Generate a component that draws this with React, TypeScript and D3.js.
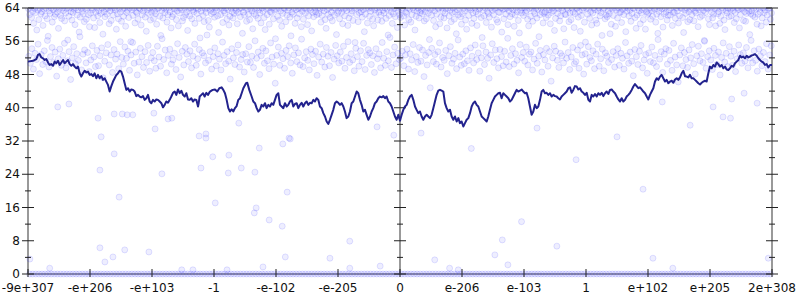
import React from "react";
import * as d3 from "d3";

// x positions are in "tick units": 0..120, one labelled tick every 10
const xTickLabels = ["-9e+307", "-e+206", "-e+103", "-1", "-e-102", "-e-205", "0", "e-206", "e-103", "1", "e+102", "e+205", "2e+308"];
const yMajorTicks = [0, 8, 16, 24, 32, 40, 48, 56, 64];
const yMinorTicks = [4, 12, 20, 28, 36, 44, 52, 60];

// smoothed line: positions and values
const lineX = [
  0, 0.81, 1.34, 1.61, 1.88, 2.15, 2.42, 2.69, 2.96, 3.23, 3.49, 3.76, 4.03, 4.3, 4.57, 4.84, 5.11, 5.38, 5.65, 5.91,
  6.18, 6.45, 6.72, 6.99, 7.26, 7.53, 7.8, 8.06, 8.33, 8.6, 8.87, 9.14, 9.41, 9.68, 9.95, 10.22, 10.48, 10.75, 11.02, 11.29,
  11.56, 11.83, 12.1, 12.37, 12.63, 12.9, 13.17, 13.44, 13.71, 13.98, 14.25, 14.52, 14.78, 15.05, 15.32, 15.59, 15.86, 16.13, 16.4, 16.67,
  16.94, 17.2, 17.47, 17.74, 18.01, 18.28, 18.55, 18.82, 19.09, 19.35, 19.62, 19.89, 20.16, 20.43, 20.7, 20.97, 21.24, 21.51, 21.77, 22.04,
  22.31, 22.58, 22.85, 23.12, 23.39, 23.66, 23.92, 24.19, 24.46, 24.73, 25.0, 25.27, 25.54, 25.81, 26.08, 26.34, 26.61, 26.88, 27.15, 27.42,
  27.53, 27.69, 27.96, 28.23, 28.49, 28.76, 29.03, 29.35, 29.78, 30.16, 30.53, 30.86, 31.23, 31.5, 31.77, 32.04, 32.31, 32.58, 32.84, 33.11,
  33.38, 33.65, 33.92, 34.19, 34.46, 34.73, 35.16, 35.37, 35.69, 36.07, 36.34, 36.61, 36.88, 37.15, 37.41, 37.68, 37.95, 38.22, 38.49, 38.76,
  39.03, 39.3, 39.56, 39.83, 40.1, 40.37, 40.64, 40.91, 41.18, 41.45, 41.72, 41.98, 42.25, 42.52, 42.79, 43.06, 43.33, 43.6, 43.87, 44.13,
  44.4, 44.67, 44.94, 45.21, 45.48, 45.75, 46.02, 46.28, 46.55, 46.82, 47.09, 47.36, 47.63, 47.9, 48.17, 48.44, 48.7, 48.97, 49.24, 49.51,
  49.78, 50.05, 50.32, 50.59, 50.86, 51.12, 51.39, 51.66, 51.93, 52.2, 52.47, 52.74, 53.01, 53.27, 53.54, 53.81, 54.08, 54.35, 54.62, 54.89,
  55.16, 55.43, 55.69, 55.96, 56.23, 56.5, 56.77, 57.04, 57.31, 57.58, 57.84, 58.11, 58.38, 58.65, 58.92, 59.19, 59.46, 59.73, 60.0, 60.27,
  60.53, 60.8, 61.07, 61.34, 61.61, 61.88, 62.15, 62.42, 62.68, 62.95, 63.22, 63.49, 63.76, 64.03, 64.3, 64.57, 64.84, 65.1, 65.37, 65.64,
  65.91, 66.18, 66.45, 66.72, 66.99, 67.25, 67.52, 67.79, 68.06, 68.33, 68.6, 68.87, 69.14, 69.41, 69.67, 69.94, 70.21, 70.48, 70.75, 71.02,
  71.29, 71.56, 71.82, 72.09, 72.36, 72.63, 72.9, 73.17, 73.44, 73.71, 73.98, 74.24, 74.51, 74.78, 75.05, 75.32, 75.59, 75.86, 76.13, 76.39,
  76.66, 76.93, 77.2, 77.47, 77.74, 78.01, 78.28, 78.54, 78.81, 79.08, 79.35, 79.62, 79.89, 80.16, 80.42, 80.69, 80.96, 81.23, 81.5, 81.77,
  82.04, 82.31, 82.58, 82.85, 83.11, 83.38, 83.65, 83.92, 84.19, 84.46, 84.73, 85.0, 85.27, 85.53, 85.8, 86.07, 86.34, 86.61, 86.88, 87.15,
  87.42, 87.68, 87.95, 88.22, 88.49, 88.76, 89.03, 89.3, 89.57, 89.84, 90.11, 90.38, 90.65, 90.92, 91.18, 91.45, 91.72, 91.99, 92.26, 92.53,
  92.8, 93.07, 93.33, 93.6, 93.87, 94.14, 94.41, 94.68, 94.95, 95.22, 95.49, 95.75, 96.02, 96.29, 96.56, 96.83, 97.1, 97.37, 97.64, 97.9,
  98.17, 98.44, 98.71, 98.98, 99.25, 99.52, 99.79, 100.05, 100.32, 100.59, 100.86, 101.13, 101.4, 101.67, 101.94, 102.2, 102.47, 102.74, 103.01, 103.28,
  103.55, 103.82, 104.09, 104.36, 104.62, 104.89, 105.16, 105.43, 105.7, 105.97, 106.24, 106.51, 106.77, 107.04, 107.31, 107.58, 107.85, 108.12, 108.39, 108.66,
  108.92, 109.19, 109.46, 109.73, 110.0, 110.27, 110.54, 110.81, 111.08, 111.34, 111.61, 111.88, 112.15, 112.42, 112.69, 112.96, 113.23, 113.49, 113.76, 114.03,
  114.3, 114.57, 114.84, 115.11, 115.38, 115.65, 115.91, 116.18, 116.45, 116.72, 116.99, 117.26, 117.53, 117.8, 118.06, 118.33, 118.6, 118.87, 119.14, 119.41,
  119.68, 120,
];
const lineY = [
  51.1, 51.3, 51.7, 52.7, 52.9, 52.1, 51.9, 51.5, 51.7, 50.9, 50.3, 50.5, 50.1, 51.1, 50.7, 51.3, 50.3, 50.9, 51.5, 50.7,
  51.1, 51.5, 50.5, 50.1, 50.5, 49.9, 49.5, 49.9, 48.3, 47.5, 48.3, 48.9, 48.5, 48.7, 47.9, 48.1, 47.6, 48.3, 47.1, 47.9,
  47.1, 47.6, 46.7, 47.1, 46.3, 45.5, 43.9, 45.2, 46.3, 47.1, 47.9, 48.3, 48.9, 48.7, 47.5, 45.9, 44.3, 44.7, 43.9, 44.4,
  44.3, 43.9, 42.8, 43.1, 42.7, 42.5, 42.8, 41.9, 42.3, 43.1, 41.5, 41.1, 41.9, 41.5, 42.0, 41.9, 41.5, 41.1, 40.1, 40.7,
  41.5, 41.2, 41.9, 42.7, 43.6, 43.9, 43.1, 44.4, 43.5, 44.1, 43.1, 42.7, 43.5, 42.0, 41.9, 42.3, 41.5, 42.0, 41.9, 40.3,
  41.1, 42.7, 43.1, 43.5, 42.7, 43.6, 43.1, 43.9, 44.3, 44.4, 43.9, 44.7, 44.9, 44.3, 43.5, 41.9, 39.9, 39.1, 39.6, 39.1,
  39.9, 40.4, 41.9, 42.3, 43.5, 44.7, 45.9, 46.0, 44.3, 42.7, 41.5, 41.1, 39.9, 39.1, 39.5, 40.7, 40.3, 41.1, 39.9, 40.7,
  40.3, 41.1, 40.7, 41.9, 43.1, 43.5, 40.7, 40.3, 39.9, 41.1, 40.3, 40.7, 41.5, 41.9, 40.3, 40.9, 41.1, 39.9, 40.7, 41.2,
  40.3, 41.1, 41.5, 40.7, 41.2, 41.1, 41.9, 41.5, 42.3, 41.9, 40.3, 39.9, 38.7, 37.9, 36.7, 36.1, 37.1, 38.3, 39.5, 41.1,
  41.5, 41.2, 40.7, 41.1, 40.3, 39.1, 37.5, 37.9, 39.1, 41.1, 41.5, 42.7, 43.9, 43.5, 41.9, 40.7, 39.1, 39.5, 38.3, 37.1,
  37.9, 39.1, 39.9, 41.1, 41.5, 42.3, 42.7, 42.5, 42.8, 42.3, 42.7, 41.5, 41.1, 40.3, 39.1, 37.9, 37.1, 38.3, 36.9, 38.3,
  39.5, 40.3, 40.7, 41.9, 42.7, 43.1, 41.9, 40.3, 39.5, 38.7, 39.1, 37.9, 37.1, 37.9, 38.3, 37.9, 37.5, 38.3, 39.9, 41.5,
  43.1, 44.1, 44.3, 44.1, 43.9, 41.1, 39.9, 39.1, 39.5, 37.9, 37.1, 37.9, 36.7, 37.5, 36.3, 36.7, 35.5, 36.3, 37.1, 37.5,
  38.7, 40.3, 41.1, 41.5, 40.7, 40.3, 39.1, 37.9, 37.5, 37.1, 36.7, 37.9, 39.5, 41.1, 41.9, 42.7, 43.1, 43.5, 43.6, 42.3,
  43.5, 43.1, 42.7, 42.3, 41.5, 41.9, 42.7, 43.5, 44.3, 43.9, 44.1, 44.4, 43.9, 43.5, 43.6, 42.3, 40.3, 38.3, 39.1, 40.7,
  39.9, 40.3, 41.9, 43.9, 44.3, 43.5, 43.6, 43.1, 43.5, 42.7, 43.1, 42.8, 42.7, 42.3, 42.0, 42.7, 43.1, 43.5, 43.9, 44.7,
  44.9, 43.6, 44.3, 45.2, 45.1, 44.4, 44.7, 43.9, 43.6, 43.1, 43.6, 41.9, 41.5, 43.1, 42.7, 43.3, 42.7, 43.5, 43.1, 43.6,
  42.8, 43.5, 43.9, 43.3, 44.3, 44.4, 43.9, 43.5, 42.7, 42.0, 41.5, 42.3, 41.5, 41.9, 42.7, 43.1, 43.6, 44.3, 45.1, 45.7,
  45.2, 44.7, 44.9, 44.4, 43.9, 43.5, 42.7, 42.0, 43.1, 43.9, 44.7, 46.3, 47.1, 46.7, 47.5, 47.9, 47.1, 46.3, 46.7, 45.9,
  46.3, 46.5, 46.0, 46.8, 47.1, 46.7, 47.3, 48.3, 48.9, 47.6, 47.5, 47.3, 47.9, 47.1, 47.1, 46.7, 46.3, 45.9, 45.6, 46.0,
  46.3, 46.5, 46.3, 48.3, 49.9, 49.5, 50.3, 49.9, 50.9, 50.5, 49.9, 50.3, 49.5, 49.9, 49.2, 49.1, 49.5, 50.1, 49.9, 50.7,
  51.1, 51.5, 52.5, 52.1, 52.3, 51.9, 52.5, 52.1, 52.3, 52.6, 52.7, 52.9, 52.5, 51.9, 51.5, 51.1, 50.9, 50.3, 50.5, 49.7,
  50.3, 50.3,
];

// dense upper band of samples (spread evenly across x, 6 per unit)
const topBand = [
  63.8, 62.4, 64, 61.7, 63.2, 60.3, 63.9, 62.9, 58.7, 63.5, 61.2, 64, 62.6, 63.1, 59.8, 63.7, 62.1, 64, 61.4, 57.2,
  63.3, 62.7, 64, 60.6, 63.6, 61.9, 62.5, 64, 63, 59.1, 63.8, 62.2, 61.5, 64, 63.4, 60.9, 62.8, 63.9, 56.3, 62,
  64, 63.1, 61.1, 62.9, 63.7, 60, 64, 62.3, 63.5, 58.2, 61.8, 64, 63.2, 62.6, 60.7, 63.9, 61.3, 64, 62.4, 59.5,
  62.8, 64, 63.6, 61.6, 59.3, 63, 64, 62.1, 63.4, 60.5, 62.7, 64, 57.7, 63.1, 61.9, 63.8, 62.5, 64, 60.2, 63.3,
  61, 63.9, 62.3, 64, 63.5, 58.9, 62.6, 61.4, 64, 63, 60.8, 63.7, 62, 64, 59.6, 62.9, 63.4, 61.7, 64, 55.9,
  63.6, 62.2, 64, 60.4, 63.1, 62.8, 61.3, 64, 63.8, 59.9, 62.4, 63.3, 64, 61.8, 58.4, 63.5, 62.7, 64, 61.1, 63,
  64, 61.5, 63.2, 62.6, 60.1, 63.9, 64, 62, 57.4, 63.4, 61.6, 64, 62.9, 63.7, 60.6, 62.3, 64, 63.1, 59.2, 61.9,
  62.5, 63.8, 64, 61.2, 63.3, 59.7, 62.8, 64, 63.6, 60.9, 61.7, 64, 62.4, 63, 58.6, 63.9, 62.1, 64, 61.4, 63.5,
  63.1, 60.3, 64, 62.7, 63.7, 61.5, 56.8, 63.2, 64, 62.2, 60.7, 63.8, 62.9, 64, 61, 59.4, 63.4, 62.6, 64, 63,
  61.8, 64, 63.5, 62.1, 58.1, 63.9, 62.4, 64, 60.5, 63.3, 62.8, 64, 61.3, 63.6, 59.9, 62, 64, 63.1, 61.6, 62.7,
  64, 63.4, 60.2, 62.9, 63.8, 61.9, 64, 57.9, 63, 62.3, 64, 60.8, 63.7, 62.5, 61.2, 64, 63.3, 59, 62.6, 63.9,
  62.2, 64, 61.5, 63.6, 62.8, 60.4, 64, 63.2, 61.7, 58.8, 63.8, 62.4, 64, 60.1, 63.1, 62.9, 64, 61.4, 63.5, 56.6,
  63.7, 62, 64, 61.1, 63.3, 59.6, 62.7, 64, 63.9, 60.7, 62.3, 63.4, 64, 61.8, 57.3, 63, 62.5, 64, 60.3, 63.6,
  61.6, 63.9, 62.6, 64, 59.5, 63.2, 61.3, 64, 62.8, 63.7, 60, 62.1, 64, 63.5, 58.5, 62.9, 61.9, 64, 63.1, 62.4,
  64, 62.7, 63.8, 60.6, 62.2, 64, 63.3, 61.2, 59.1, 63.6, 62.5, 64, 61.7, 63, 60.9, 64, 62.3, 63.9, 57.6, 62.8,
  63.2, 61.4, 64, 62.9, 60.2, 63.7, 62.1, 64, 63.4, 59.8, 61.6, 64, 62.6, 63.3, 61, 64, 55.7, 63.8, 62.4, 60.7,
  62.9, 64, 63.1, 61.8, 63.6, 58.3, 62.5, 64, 60.4, 63.9, 62, 63.2, 64, 61.3, 59.7, 63.5, 62.7, 64, 61.1, 63,
  64, 62.3, 60.8, 63.4, 62.8, 64, 61.5, 63.7, 57.5, 62.2, 64, 63.1, 60.3, 62.6, 63.9, 61.9, 64, 59.3, 63.3, 62.4,
  61.7, 63.6, 64, 62.1, 59.9, 63, 62.7, 64, 61.2, 63.8, 60.6, 62.4, 64, 63.5, 58.7, 62, 63.2, 64, 61.6, 62.9,
  63.4, 62.6, 64, 60.9, 63.1, 61.4, 64, 62.8, 56.4, 63.7, 62.3, 64, 61, 63.3, 59.5, 62.5, 64, 63.9, 60.2, 61.8,
  64, 63.2, 61.6, 62.7, 63.8, 59.2, 64, 62.1, 63.5, 60.7, 62.9, 64, 61.3, 63, 57.8, 63.6, 62.4, 64, 61.9, 60.1,
  62.6, 64, 63.3, 61.1, 58.9, 63.9, 62.2, 64, 63.6, 60.3, 62.8, 61.5, 64, 63.1, 59.8, 62.5, 63.7, 64, 61.7, 56.9,
  63.5, 62.1, 64, 60.5, 63.2, 62.7, 61.8, 64, 59.4, 63.4, 62.4, 63.9, 64, 61.2, 60.6, 63, 62.9, 64, 58.2, 63.7,
  61.4, 63.8, 62.5, 64, 60, 63.3, 61.9, 64, 62.6, 63.6, 59.6, 62.3, 64, 63.1, 61, 58, 63.5, 62.8, 64, 62.2,
  64, 62.9, 63.4, 61.3, 59.7, 63.9, 62, 64, 60.8, 63.2, 62.6, 64, 61.6, 63.7, 57.1, 62.4, 64, 63, 60.4, 62.7,
  63.1, 61.7, 64, 62.3, 63.6, 60.2, 62.9, 64, 63.3, 58.6, 61.5, 64, 62.7, 63.8, 60.9, 62.1, 64, 63.4, 59, 62.5,
  62.4, 64, 63.7, 60.7, 62.8, 61.2, 64, 63, 59.3, 62.6, 63.9, 64, 61.8, 63.2, 58.4, 62.2, 63.5, 64, 60.6, 55.8,
  63.9, 62.5, 64, 61.5, 63.1, 59.9, 62.8, 64, 63.6, 61.1, 60.3, 63.4, 64, 62.1, 62.9, 57.4, 63.7, 64, 61.4, 62.3,
  61.9, 63.3, 62.6, 64, 60.1, 63.8, 62.2, 64, 59.6, 63.5, 61.6, 64, 62.9, 63, 60.5, 63.7, 62.4, 64, 58.3, 63.2,
  64, 62.1, 63.5, 60.8, 62.7, 64, 63.9, 61.7, 59.1, 62.3, 64, 63.3, 60.2, 62.8, 63.6, 61.2, 64, 58.9, 63.1, 62.5,
  62.8, 64, 61.3, 63.4, 62, 64, 63.7, 60.6, 62.5, 57.9, 63.2, 64, 61.9, 63.8, 59.4, 62.6, 64, 63, 61.1, 62.2,
  63.6, 62.3, 64, 59.8, 63, 62.9, 61.5, 64, 63.3, 60.4, 62.1, 64, 63.9, 61.7, 58.1, 63.5, 62.7, 64, 60.7, 63.1,
  61.2, 63.7, 62.4, 64, 60.9, 63.2, 62.8, 64, 59.5, 63.6, 61.8, 64, 62.2, 63.4, 56.2, 62.9, 64, 63.8, 61.4, 60,
  64, 63, 61.6, 62.5, 63.9, 59.7, 64, 62.6, 63.1, 60.3, 62, 64, 63.5, 61.1, 58.8, 63.3, 62.8, 64, 61.9, 63.7,
  62.1, 64, 63.4, 60.5, 62.9, 61.4, 64, 63.6, 59.2, 62.4, 63.8, 64, 61, 63.1, 60.8, 62.7, 64, 63.2, 57.6, 62.6,
  63.3, 62.2, 64, 61.8, 63.7, 60.1, 62.5, 64, 63, 59.7, 61.6, 64, 62.9, 63.5, 60.6, 62.3, 64, 63.9, 61.3, 62.8,
];

// middle band of samples (4 per unit)
const midBand = [
  52.4, 50.7, 54.2, 49.3, 53.1, 51.6, 55.3, 48.2, 52.8, 50.4, 53.7, 51.1, 56.2, 49.8, 52.3, 54.5, 50.9, 53.4, 47.6, 51.8,
  54.1, 50.2, 52.6, 55.5, 49.6, 51.3, 53.5, 46.8, 52, 54.7, 50.6, 53, 51.4, 57.1, 49.1, 52.9, 53.9, 50.8, 53.3, 48.7,
  51.5, 54.9, 52.2, 49.9, 53.8, 50.1, 52.5, 54.4, 47.2, 51.2, 53.2, 55.2, 50.3, 52.7, 48.5, 54, 51.7, 52.9, 49.4, 55.9,
  52.1, 50.5, 54.6, 51.9, 53.6, 49, 52.7, 55.7, 50.7, 53.4, 47.9, 51, 54.3, 52.3, 49.7, 53.5, 50.9, 55, 48.8, 52,
  53.3, 51.3, 49.5, 54.8, 52.2, 50, 56.6, 51.6, 53.9, 48.4, 52.6, 54.1, 50.5, 51.5, 53.1, 49.2, 55.4, 52.1, 47.4, 53.6,
  50.3, 54.5, 52.9, 51.1, 53.7, 49.6, 52.4, 55.3, 50.2, 51.8, 54, 48.1, 53.2, 52.5, 50.8, 57.5, 51.4, 53.5, 49.3, 52.3,
  54.4, 50.1, 53, 51.7, 49.1, 55.8, 52.6, 50.6, 53.5, 51.2, 46.9, 54.2, 52, 50.4, 53.3, 55.1, 49.8, 51.6, 52.8, 48.6,
  53, 51, 54.7, 50.9, 52.4, 49.7, 56.1, 51.9, 53.4, 48, 52.5, 54.3, 50.7, 53.7, 51.3, 49.4, 55.6, 52.2, 50.5, 45.9,
  52.6, 54.6, 50.2, 53.1, 51.8, 49.5, 53.8, 52.3, 54.9, 50.8, 48.3, 52.7, 54.4, 51.1, 53.2, 50.3, 56.5, 49.9, 52, 53.5,
  51.4, 49.1, 54.1, 52.8, 50.6, 53.6, 47.8, 52.2, 55.3, 51, 52.9, 49.8, 54.5, 52.4, 50.1, 53.3, 47.3, 51.7, 55, 52.5,
  50.8, 53.4, 51.2, 54.8, 49.5, 52.1, 55.9, 50.9, 53, 51.5, 48.9, 54.3, 52.3, 50, 53.7, 51.1, 55.5, 49.2, 52.6, 54,
  53.2, 50.4, 52.5, 48.5, 54.2, 51.8, 52.9, 49.6, 55.7, 51.9, 50.2, 53.5, 51.3, 56.9, 49.7, 52.7, 54.6, 50.6, 53.1, 51.6,
  51.9, 53.6, 50.1, 52.7, 54.1, 49.3, 53, 51.5, 55.2, 48.7, 52.3, 50.9, 54.5, 51.2, 53.9, 47.5, 52.6, 50.3, 53.3, 44.8,
  54.3, 51.1, 52.8, 50.5, 53.5, 55.6, 49.8, 52.1, 51.4, 53.8, 48.2, 52.5, 54.7, 50.7, 51.7, 53.1, 49.4, 56.3, 52.2, 50.2,
  52.9, 50.6, 53.7, 51.3, 49, 54.4, 52.4, 50.8, 55.1, 51.6, 53.2, 48.8, 52, 54.9, 50.4, 53.4, 51.9, 47.1, 52.7, 55.4,
  50.9, 53.9, 51.8, 49.6, 54, 52.3, 50.1, 53.6, 51, 56.7, 49.9, 52.6, 54.2, 50.5, 53, 51.4, 48.4, 55.2, 52.1, 53.3,
  51.2, 54.6, 50.3, 52.9, 53.4, 49.1, 51.7, 55.5, 50.7, 52.4, 53.8, 48.6, 52.8, 51.5, 54.3, 50, 53.5, 46.4, 52, 54.8,
  53.6, 51.4, 49.7, 53.1, 52.5, 50.8, 55.8, 51.9, 53.3, 49.2, 52.2, 54.5, 50.6, 51.1, 53.9, 49.5, 55, 52.7, 48.1, 53,
  50.5, 54.7, 52.1, 51.3, 53.7, 49.4, 52.9, 55.3, 50, 51.8, 54.1, 48.9, 53.2, 52.4, 50.9, 57.8, 51.6, 53.5, 49.8, 52.6,
  54.2, 50.2, 53.1, 51.9, 49.3, 55.7, 52.5, 50.7, 53.4, 51.2, 47.7, 54, 52.3, 50.4, 53.6, 55, 49.6, 51.5, 52.8, 48.3,
  53.2, 51.1, 54.6, 50.8, 52.6, 49.9, 56.4, 51.7, 53.5, 48.5, 52.9, 54.2, 50.5, 53.8, 51.4, 49, 55.5, 52.2, 50.3, 46.2,
  52.7, 54.4, 50.1, 53.3, 51.6, 49.7, 53.9, 52, 55.2, 50.6, 48.1, 52.5, 54.8, 51.3, 53, 50.9, 56, 49.5, 52.3, 53.7,
  51.5, 49.2, 54.3, 52.6, 50.4, 53.4, 47.9, 52.1, 55.6, 51, 53.1, 49.9, 54.7, 52.4, 50.2, 53.6, 48.7, 51.8, 55.1, 52.8,
  50.7, 53.2, 51.2, 54.5, 49.6, 52, 56.2, 50.8, 53.7, 51.4, 48.8, 54.1, 52.5, 50.1, 53.3, 51.1, 55.4, 49.3, 52.7, 54.9,
];

// samples sitting at zero along the bottom (2 per unit)
const zeroBand = new Array(240).fill(0);

// scattered outliers (position, value)
const sparseX = [27.6, 28.7, 28.7, 13.9, 11.6, 21.6, 27.9, 29.8, 32.4, 32.3, 34.4, 36.6, 37.3, 41.1, 42.3, 41.8, 30.2, 36.8, 36.5, 38.9, 41.0, 14.7, 15.6, 19.5, 13.7, 12.4, 37.9, 41.5, 11.6, 4.8, 6.6, 11.3, 13.9, 15.2, 16.0, 16.9, 20.3, 11.8, 20.5, 22.6, 23.2, 34.0, 42.1, 56.3, 59.0, 48.7, 51.9, 56.8, 51.9, 24.8, 26.6, 32.1, 0.3, 3.5,
  110.5, 112.1, 113.3, 113.5, 117.6, 115.5, 102.3, 82.1, 95.0, 65.6, 75.3, 76.5, 77.4, 85.3, 100.8, 104.0, 69.4, 119.4, 68.0, 71.5, 88.4, 99.2, 106.8, 63.4, 79.6];
const sparseY = [33.2, 33.7, 32.7, 28.9, 25.0, 24.1, 25.5, 28.2, 28.6, 24.3, 25.5, 24.5, 30.3, 31.3, 32.5, 19.7, 17.1, 15.9, 14.7, 13.0, 11.5, 18.5, 5.8, 5.3, 4.1, 2.9, 1.7, 4.1, 6.3, 40.2, 40.9, 37.5, 38.5, 38.5, 38.3, 38.3, 38.7, 33.0, 34.9, 37.3, 37.5, 36.3, 32.7, 35.4, 33.4, 3.8, 1.4, 1.9, 7.9, 1.0, 1.0, 1.0, 3.6, 1.4,
  40.2, 37.8, 37.5, 42.1, 41.1, 43.5, 41.4, 35.1, 33.0, 3.4, 4.6, 8.2, 2.2, 6.7, 3.8, 1.4, 1.0, 3.8, 1.4, 30.2, 27.5, 20.4, 35.8, 33.9, 12.6];

const W = 800, H = 300;
const L = 28, R = 772, T = 8, B = 274;

export default function App() {
  const x = d3.scaleLinear().domain([0, 120]).range([L, R]);
  const y = d3.scaleLinear().domain([0, 64]).range([B, T]);

  const points: [number, number][] = [];
  topBand.forEach((v, i) => points.push([(i + 0.5) / 6, v]));
  midBand.forEach((v, i) => points.push([(i + 0.5) / 4, v]));
  zeroBand.forEach((v, i) => points.push([(i + 0.5) / 2, v]));
  sparseX.forEach((px, i) => points.push([px, sparseY[i]]));

  const n = Math.min(lineX.length, lineY.length);
  const line = d3.line<number>().x((i) => x(lineX[i])).y((i) => y(lineY[i]));
  const lineData = line(d3.range(n)) || "";

  const xTickVals = xTickLabels.map((_, i) => i * 10);
  const axisXs = [x(0), x(60), x(120)];
  const font = "DejaVu Sans, sans-serif";

  return (
    <svg width={W} height={H} style={{ position: "fixed", left: 0, top: 0, background: "#fff" }} fontFamily={font}>
      <defs>
        <clipPath id="plot">
          <rect x={L - 4} y={T} width={R - L + 8} height={B - T + 4} />
        </clipPath>
      </defs>
      {/* frame */}
      <line x1={L} x2={R} y1={T} y2={T} stroke="#999" strokeWidth={2} />
      <line x1={L} x2={R} y1={B} y2={B} stroke="#999" strokeWidth={2} />
      {axisXs.map((ax, i) => (
        <line key={i} x1={ax} x2={ax} y1={T} y2={B} stroke="#999" strokeWidth={2} />
      ))}
      {/* samples */}
      <g clipPath="url(#plot)">
        {points.map(([px, v], i) => (
          <circle key={i} cx={x(px)} cy={y(v)} r={3} fill="#2a2aff" fillOpacity={0.08} stroke="#2a2aff" strokeOpacity={0.13} strokeWidth={1} />
        ))}
      </g>
      {/* y ticks on the three vertical axes */}
      {axisXs.map((ax, j) => (
        <g key={j}>
          {yMajorTicks.map((t) => (
            <line key={"M" + t} x1={ax - 6} x2={ax + 6} y1={y(t)} y2={y(t)} stroke="#222" strokeWidth={1} />
          ))}
          {yMinorTicks.map((t) => (
            <line key={"m" + t} x1={ax - 3} x2={ax + 3} y1={y(t)} y2={y(t)} stroke="#222" strokeWidth={1} />
          ))}
        </g>
      ))}
      {yMajorTicks.map((t) => (
        <text key={t} x={L - 8} y={y(t)} dy="0.35em" textAnchor="end" fontSize={12} fill="#111">
          {t}
        </text>
      ))}
      {/* x ticks */}
      {xTickVals.map((t, i) => (
        <g key={i}>
          <line x1={x(t)} x2={x(t)} y1={B - 5} y2={B + 3} stroke="#222" strokeWidth={1} />
          <text x={x(t)} y={B + 18} textAnchor="middle" fontSize={12} fill="#111">
            {xTickLabels[i]}
          </text>
        </g>
      ))}
      {/* smoothed line */}
      <path d={lineData} fill="none" stroke="#23238e" strokeWidth={2} strokeLinejoin="round" />
    </svg>
  );
}
